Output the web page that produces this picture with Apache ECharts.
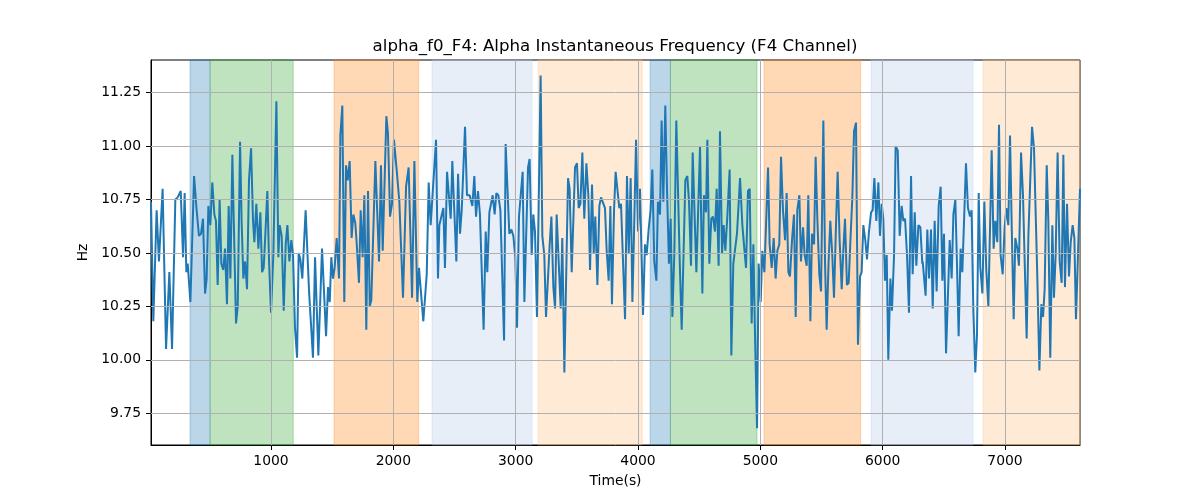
<!DOCTYPE html>
<html>
<head>
<meta charset="utf-8">
<script src="https://cdn.jsdelivr.net/npm/echarts@6/dist/echarts.min.js"></script>
<style>html,body{margin:0;padding:0;background:#fff}#c{width:1200px;height:500px}</style>
</head>
<body>
<div id="c"></div>
<script>
const titleText = 'alpha_f0_F4: Alpha Instantaneous Frequency (F4 Channel)';
const xLabel = 'Time(s)';
const yLabel = 'Hz';
const xTicks = [1000, 2000, 3000, 4000, 5000, 6000, 7000];
const yTicks = [9.75, 10.0, 10.25, 10.5, 10.75, 11.0, 11.25];
const xRange = [19, 7613];
const yRange = [9.601, 11.403];

// shaded segments: [start, end] and kind
const spans = [[338,502],[502,1182],[1515,2207],[2316,3134],[3183,4035],[4099,4265],[4265,4973],[5030,5820],[5905,6739],[6821,7613]];
const spanKinds = ['blue','green','orange','lightblue','lightorange','blue','green','orange','lightblue','lightorange'];

const times = [
19,38,65,84,114,142,169,191,218,237,262,281,294,308,319,341,371,392,411,428,444,461,474,488,504,520,537,550,564,580,594,610,624,640,654,668,684,698,714,728,747,760,774,788,804,820,837,853,864,880,897,913,927,940,954,970,984,1000,1019,1044,1060,1071,1087,1104,1120,1134,1150,1166,1180,1196,1213,1226,1240,1256,
1283,1311,1324,1343,1360,1387,1417,1450,1466,1480,1493,1507,1520,1537,1556,1567,1583,1599,1613,1627,1643,1659,1673,1689,1700,1719,1733,1749,1763,1779,1793,1807,1820,1853,1883,1899,1913,1943,1956,1973,1989,2005,2027,2049,2079,2104,2125,2153,2172,2196,2210,2218,2245,2273,2289,2305,2349,2365,2376,2409,2422,2439,2469,2482,2515,2529,2545,
2559,2586,2602,2624,2646,2662,2676,2692,2708,2738,2755,2768,2785,2812,2828,2842,2858,2875,2905,2918,2948,2965,2981,2997,3011,3027,3057,3071,3101,3114,3131,3144,3158,3174,3204,3218,3234,3248,3278,3292,3308,3322,3335,3351,3368,3381,3398,3428,3441,3458,3485,3501,3515,3529,3545,3561,3578,3594,3608,3624,3638,3651,3668,3684,3698,3714,3730,3744,3760,3774,3787,3804,
3817,3847,3861,3877,3894,3910,3924,3940,3954,3967,3984,4000,4016,4041,4057,4071,4087,4103,4117,4133,4150,4163,4180,4193,4207,4223,4237,4253,4267,4281,4297,4313,4341,4357,4387,4403,4417,4433,4447,4477,4507,4526,4539,4556,4567,4583,4599,4613,4629,4643,4659,4670,4687,4700,4714,4730,4749,4763,4779,4809,4834,4853,4869,4883,4899,4913,4929,4943,4956,4973,4986,5003,5016,5033,5049,5063,
5076,5093,5109,5125,5139,5155,5169,5185,5202,5215,5229,5242,5259,5275,5289,5302,5319,5332,5349,5362,5379,5392,5409,5422,5439,5452,5466,5482,5496,5515,5529,5542,5558,5572,5588,5602,5618,5632,5648,5665,5678,5692,5708,5722,5738,5752,5766,5782,5798,5815,5828,5842,5858,5872,5888,5905,5918,5932,5948,5965,5978,5992,6005,6019,6033,6046,6063,6076,6093,6106,6123,6139,6155,6169,6183,6199,6215,6232,6245,6262,6275,6292,6308,6324,
6327,6351,6365,6379,6395,6409,6425,6441,6458,6474,6488,6501,6518,6548,6564,6578,6594,6607,6621,6637,6651,6681,6697,6714,6727,6741,6757,6771,6785,6798,6815,6831,6847,6864,6891,6907,6921,6937,6951,6964,6981,6997,7011,7027,7041,7057,7071,7084,7101,7114,7131,7147,7177,7191,7221,7237,7264,7281,7297,7311,7324,7341,7354,7370,7387,7400,7414,7430,7447,7463,7477,7490,7507,7523,7537,7553,7567,7580,7597,7613
];

const hz = [
10.74,10.18,10.70,10.46,10.80,10.05,10.41,10.05,10.75,10.76,10.79,10.48,10.78,10.41,10.45,10.27,10.86,10.70,10.58,10.59,10.66,10.31,10.38,10.72,10.63,10.83,10.68,10.65,10.35,10.75,10.45,10.42,10.52,10.26,10.72,10.38,10.96,10.59,10.17,10.25,11.02,10.64,10.38,10.46,10.33,10.84,10.99,10.65,10.55,10.73,10.52,10.69,10.41,10.43,10.59,10.79,10.46,10.22,10.49,11.21,10.48,10.63,10.58,10.23,10.54,10.63,10.46,10.56,10.49,10.15,10.01,10.50,10.47,10.38,
10.70,10.32,10.32,10.01,10.48,10.02,10.52,10.11,10.34,10.27,10.48,10.38,10.43,10.57,10.38,11.05,11.19,10.27,10.91,10.84,10.93,10.57,10.68,10.64,10.55,10.36,10.70,10.48,10.77,10.14,10.79,10.25,10.28,10.93,10.46,10.91,10.51,11.14,11.06,10.67,10.73,11.03,10.89,10.74,10.29,10.81,10.90,10.29,10.93,10.27,10.43,10.37,10.18,10.40,10.83,10.63,11.03,10.38,10.63,10.71,10.43,10.88,10.66,10.93,10.46,10.87,10.59,
10.70,11.09,10.77,10.77,10.72,10.86,10.67,10.79,10.68,10.14,10.60,10.41,10.69,10.77,10.68,10.78,10.77,10.70,10.09,11.01,10.59,10.61,10.58,10.48,10.15,10.67,10.88,10.27,10.90,10.94,10.49,10.68,10.60,10.20,11.33,10.58,10.49,10.20,10.54,10.67,10.34,10.24,10.68,10.68,10.24,10.57,9.94,10.85,10.80,10.41,10.90,10.92,10.71,10.73,10.97,10.66,10.92,10.77,10.42,10.82,10.50,10.67,10.35,10.72,10.76,10.76,10.71,10.51,10.37,10.72,10.26,10.70,
10.88,10.71,10.73,10.73,10.19,10.86,10.50,10.85,10.27,10.58,11.03,10.60,10.80,10.21,10.54,10.49,10.61,10.70,10.89,10.46,10.37,10.74,10.68,11.12,10.74,11.19,10.80,10.45,10.66,10.20,10.50,11.12,10.46,10.14,10.84,10.86,10.74,10.44,10.97,10.41,11.00,10.31,10.77,10.69,11.03,10.45,10.66,10.67,10.60,10.80,10.44,11.07,10.50,10.63,10.51,10.67,10.89,10.02,10.45,10.59,10.85,10.63,10.52,10.43,10.79,10.80,10.17,10.54,10.13,9.68,10.45,10.27,10.51,10.41,10.41,10.90,
10.54,10.43,10.57,10.38,10.51,10.54,10.95,10.70,10.56,10.78,10.41,10.39,10.56,10.68,10.20,10.70,10.77,10.46,10.62,10.49,10.44,10.77,10.18,10.59,10.54,10.95,10.66,10.40,10.32,11.12,10.45,10.14,10.46,10.65,10.49,10.29,10.62,10.88,10.56,10.33,10.51,10.66,10.35,10.36,10.58,10.76,11.07,11.11,10.07,10.39,10.41,10.63,10.56,10.47,10.60,10.69,10.70,10.85,10.65,10.83,10.58,10.73,10.66,10.37,10.49,10.00,10.38,10.23,10.49,11.00,10.98,10.58,10.72,10.65,10.66,10.49,10.22,10.86,10.40,10.69,10.44,10.63,10.62,10.45,
10.46,10.30,10.61,10.38,10.61,10.24,10.65,10.32,10.72,10.81,10.37,10.59,10.03,10.56,10.38,10.68,10.75,10.46,10.11,10.52,10.41,10.92,10.71,10.67,10.70,10.24,9.94,10.12,10.78,10.43,10.31,10.74,10.42,10.25,10.98,10.52,10.65,10.55,11.10,10.49,10.40,10.62,10.71,10.63,11.05,10.56,10.19,10.57,10.52,10.44,10.97,10.77,10.10,10.58,11.09,10.99,10.39,9.95,10.26,10.20,10.33,10.91,10.65,10.01,10.63,10.29,10.49,10.97,10.46,10.36,10.96,10.34,10.73,10.39,10.55,10.63,10.57,10.19,10.50,10.80
];

const spanPalette = {
  blue: 'rgba(31,119,180,0.3)',
  green: 'rgba(44,160,44,0.3)',
  orange: 'rgba(255,127,14,0.3)',
  lightblue: 'rgba(174,199,232,0.3)',
  lightorange: 'rgba(255,187,120,0.3)'
};

const FONT = 'DejaVu Sans';
const chart = echarts.init(document.getElementById('c'), null, {renderer: 'canvas'});

const lineData = times.map((t, i) => [t, hz[i]]);
const areaData = spans.map((s, i) => [
  {xAxis: s[0], itemStyle: {color: spanPalette[spanKinds[i]], borderColor: spanPalette[spanKinds[i]], borderWidth: 1}},
  {xAxis: s[1]}
]);
const gridLines = xTicks.map(v => ({xAxis: v})).concat(yTicks.map(v => ({yAxis: v})));

chart.setOption({
  animation: false,
  backgroundColor: '#fff',
  title: {
    text: titleText,
    left: 615, top: 38, textAlign: 'center', padding: 0,
    textStyle: {fontFamily: FONT, fontSize: 16.67, fontWeight: 'normal', color: '#000'}
  },
  grid: {left: 151, right: 120, top: 60, bottom: 55, show: true, borderColor: '#000', borderWidth: 1, backgroundColor: 'transparent'},
  xAxis: {
    type: 'value', min: xRange[0], max: xRange[1],
    name: xLabel, nameLocation: 'middle', nameGap: 29,
    nameTextStyle: {fontFamily: FONT, fontSize: 13.9, color: '#000'},
    axisLine: {show: true, onZero: false, lineStyle: {color: '#000', width: 1}},
    axisTick: {show: true, length: 5, lineStyle: {color: '#000', width: 1}, customValues: xTicks},
    axisLabel: {fontFamily: FONT, fontSize: 13.9, color: '#000', margin: 9, customValues: xTicks,
      formatter: v => String(Math.round(v))},
    splitLine: {show: false}
  },
  yAxis: {
    type: 'value', min: yRange[0], max: yRange[1],
    name: yLabel, nameLocation: 'middle', nameGap: 56, nameRotate: 90,
    nameTextStyle: {fontFamily: FONT, fontSize: 13.9, color: '#000'},
    axisLine: {show: true, onZero: false, lineStyle: {color: '#000', width: 1}},
    axisTick: {show: true, length: 5, lineStyle: {color: '#000', width: 1}, customValues: yTicks},
    axisLabel: {fontFamily: FONT, fontSize: 13.9, color: '#000', margin: 10, customValues: yTicks,
      formatter: v => v.toFixed(2)},
    splitLine: {show: false}
  },
  series: [
    {
      type: 'line', data: [], z: 1, silent: true,
      markArea: {silent: true, data: areaData}
    },
    {
      type: 'line', data: [], z: 2, silent: true,
      markLine: {silent: true, symbol: ['none', 'none'], label: {show: false},
        lineStyle: {color: '#b0b0b0', width: 1, type: 'solid'}, data: gridLines, animation: false}
    },
    {
      type: 'line', data: lineData, z: 3, showSymbol: false, symbol: 'none',
      lineStyle: {color: '#1f77b4', width: 2}, itemStyle: {color: '#1f77b4'}
    }
  ]
});
</script>
</body>
</html>
